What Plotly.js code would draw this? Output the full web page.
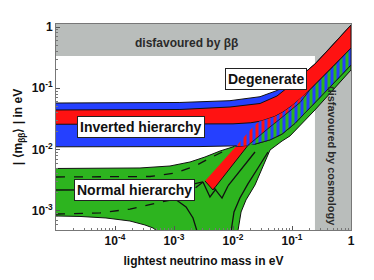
<!DOCTYPE html>
<html><head><meta charset="utf-8">
<script src="https://cdn.plot.ly/plotly-3.0.1.min.js"></script>
<style>html,body{margin:0;padding:0;background:#fff}#chart{width:374px;height:280px}</style>
</head><body><div id="chart"></div>
<script>
// ---- values (lightest mass in eV, |<m_bb>| in eV) ----
// disfavoured regions
const bbLimit = 0.336;          // lower edge of "disfavoured by ββ"
const cosmoLimit = 0.245;       // left edge of "disfavoured by cosmology"

// Inverted hierarchy, outer (3σ) upper edge, joining the degenerate top
const ihTopMass = [1e-5, 1.26e-3, 8.89e-3, 2.87e-2, 5.57e-2, 8.22e-2, 0.117, 0.166, 0.245, 0.441, 1];
const ihTopMbb  = [0.0575, 0.0587, 0.0628, 0.0729, 0.0921, 0.113, 0.142, 0.181, 0.249, 0.454, 1.078];
// Inverted hierarchy, outer (3σ) lower edge
const ihLowMass = [1e-5, 2.76e-3, 1.17e-2, 2.36e-2, 4.24e-2, 6.78e-2, 0.112, 0.202, 0.441, 1];
const ihLowMbb  = [0.0111, 0.0112, 0.0115, 0.0123, 0.0144, 0.0179, 0.0267, 0.0477, 0.105, 0.240];
// Inverted hierarchy, best-fit upper edge
const ihBestTopMass = [1e-5, 1.26e-3, 8.89e-3, 2.87e-2, 5.57e-2, 9.25e-2, 0.137, 0.166, 0.245, 0.441, 1];
const ihBestTopMbb  = [0.0443, 0.0451, 0.0495, 0.0565, 0.0749, 0.109, 0.150, 0.181, 0.249, 0.454, 1.078];
// Inverted hierarchy, best-fit lower edge
const ihBestLowMass = [1e-5, 0.01, 0.02, 0.03, 0.05, 0.07, 0.1, 0.15, 0.2, 0.3, 0.5, 1];
const ihBestLowMbb  = [0.0259, 0.0263, 0.0274, 0.0292, 0.0344, 0.0408, 0.052, 0.0725, 0.094, 0.138, 0.227, 0.452];

// Normal hierarchy, outer upper edge
const nhTopMass = [1e-5, 2.65e-4, 8.55e-4, 1.87e-3, 3.35e-3, 6.03e-3, 1.04e-2, 2.02e-2, 2.76e-2, 0.137, 1];
const nhTopMbb  = [0.00492, 0.00501, 0.0054, 0.00628, 0.00757, 0.00948, 0.0112, 0.0217, 0.0287, 0.0778, 0.614];
// Normal hierarchy, outer lower / right edge (from m=1 down to the cancellation)
const nhLowMass = [1, 0.245, 9.25e-2, 6.78e-2, 4.24e-2, 3.10e-2, 2.36e-2, 1.66e-2, 1.37e-2, 1.22e-2, 1.2e-2];
const nhLowMbb  = [0.199, 0.0443, 0.0167, 0.0138, 0.00984, 0.00501, 0.00265, 0.00151, 0.00096, 0.00049, 3e-4];
// Normal hierarchy, lower-left boundary (white notch)
const nhNotchMass = [5.2e-4, 5.15e-4, 4.41e-4, 3.22e-4, 1.79e-4, 7.03e-5, 2.55e-5, 1e-5];
const nhNotchMbb  = [3e-4, 0.00047, 0.000526, 0.000589, 0.000684, 0.000766, 0.000811, 0.000826];
// Normal hierarchy best-fit band (red)
const nhRedMass = [3.35e-3, 4.58e-3, 1.79e-2, 1.12e-2];
const nhRedMbb  = [0.00308, 0.00219, 0.0117, 0.0112];
// Normal hierarchy best-fit lower edge inside the overlap
const nhBestLowMass = [1.79e-2, 2.87e-2, 4.24e-2, 6.27e-2, 9.25e-2, 0.137, 0.2];
const nhBestLowMbb  = [0.0117, 0.0173, 0.0234, 0.0316, 0.0427, 0.0587, 0.094];

// black curves inside the normal-hierarchy region
const curveA = {m: [1e-5, 3.92e-4, 1.04e-3, 2.27e-3, 4.41e-3, 8.22e-3], v: [0.00357, 0.00364, 0.00415, 0.0054, 0.00757, 0.0102], dash: 'dash'};
const curveB = {m: [1e-5, 3.92e-4, 1.53e-3, 3.10e-3], v: [0.00219, 0.00223, 0.00255, 0.00296], dash: 'solid'};
const curveC = {m: [1e-5, 5.57e-5, 1.79e-4, 4.76e-4, 1.04e-3, 1.87e-3, 3.10e-3], v: [0.000889, 0.000925, 0.00107, 0.0013, 0.00156, 0.00203, 0.00296], dash: 'dash'};
const curveD = {m: [1.04e-3, 1.60e-3, 2.10e-3, 2.45e-3, 2.55e-3], v: [0.00156, 0.00116, 0.000766, 0.00047, 3e-4], dash: 'solid'};
const curveE = {m: [3.10e-3, 4.07e-3, 5.15e-3], v: [0.00296, 0.00169, 0.00228], dash: 'solid'};
const curveF = {m: [4.76e-3, 6.51e-3, 8.22e-3], v: [0.00237, 0.00162, 0.00255], dash: 'solid'};
const curveG = {m: [9.25e-3, 1.04e-2, 1.31e-2, 1.79e-2, 2.65e-2, 3.92e-2], v: [0.000453, 0.00096, 0.00162, 0.00275, 0.00501, 0.00914], dash: 'solid'};
const curveH = {m: [8.22e-3, 2.36e-2], v: [0.00255, 0.00914], dash: 'solid'};

const xTicks = [1e-4, 1e-3, 1e-2, 1e-1, 1];
const xTickText = ['10<sup>-4</sup>', '10<sup>-3</sup>', '10<sup>-2</sup>', '10<sup>-1</sup>', '1'];
const yTicks = [1e-3, 1e-2, 1e-1, 1];
const yTickText = ['10<sup>-3</sup>', '10<sup>-2</sup>', '10<sup>-1</sup>', '1'];

// colours
const GRAY = '#b9bdbb', BLUE = '#2540ff', RED = '#ff1212', GREEN = '#2db41f';

const rev = a => a.slice().reverse();
function poly(xs, ys, fill, extra) {
  return Object.assign({type: 'scatter', mode: 'lines', x: xs, y: ys, fill: 'toself',
    fillcolor: fill, line: {color: '#111', width: 1}, hoverinfo: 'skip', showlegend: false}, extra || {});
}
function curve(c) {
  return {type: 'scatter', mode: 'lines', x: c.m, y: c.v, line: {color: '#111', width: 1.3, dash: c.dash},
    hoverinfo: 'skip', showlegend: false};
}

const traces = [];
// gray disfavoured zones
traces.push(poly([1e-5, 1, 1, 1e-5], [bbLimit, bbLimit, 3, 3], GRAY, {line: {width: 0}}));
traces.push(poly([cosmoLimit, 1, 1, cosmoLimit], [1e-4, 1e-4, bbLimit, bbLimit], GRAY, {line: {width: 0}}));
// normal hierarchy outer region
traces.push(poly(nhTopMass.concat(nhLowMass, nhNotchMass), nhTopMbb.concat(nhLowMbb, nhNotchMbb), GREEN));
// normal hierarchy best-fit band
traces.push(poly(nhRedMass, nhRedMbb, RED));
// inverted hierarchy outer region
traces.push(poly(ihTopMass.concat(rev(ihLowMass)), ihTopMbb.concat(rev(ihLowMbb)), BLUE));
// inverted hierarchy best fit
traces.push(poly(ihBestTopMass.concat(rev(ihBestLowMass)), ihBestTopMbb.concat(rev(ihBestLowMbb)), RED));
// overlap: IH 3σ with NH best fit (blue/red hatching)
{
  const mid = ihBestLowMass.map((m, i) => [m, ihBestLowMbb[i]]).filter(p => p[0] >= 0.03 && p[0] <= 0.2);
  const xs = [nhRedMass[3], nhTopMass[7], nhTopMass[8]].concat(mid.map(p => p[0]), rev(nhBestLowMass).slice(1));
  const ys = [nhRedMbb[3], nhTopMbb[7], nhTopMbb[8]].concat(mid.map(p => p[1]), rev(nhBestLowMbb).slice(1));
  traces.push(poly(xs, ys, BLUE, {fillpattern: {shape: '|', bgcolor: BLUE, fgcolor: RED, size: 6, solidity: 0.5}, line: {width: 0}}));
}
// overlap: IH 3σ with NH 3σ (blue/green hatching)
{
  const hi = ihBestLowMass.map((m, i) => [m, ihBestLowMbb[i]]).filter(p => p[0] > 0.2);
  const lo = ihLowMass.map((m, i) => [m, ihLowMbb[i]]).filter(p => p[0] > 0.02).reverse();
  const xs = nhBestLowMass.concat(hi.map(p => p[0]), lo.map(p => p[0]));
  const ys = nhBestLowMbb.concat(hi.map(p => p[1]), lo.map(p => p[1]));
  traces.push(poly(xs, ys, BLUE, {fillpattern: {shape: '|', bgcolor: BLUE, fgcolor: GREEN, size: 6, solidity: 0.5}, line: {color: '#111', width: 0.8}}));
}
[curveA, curveB, curveC, curveD, curveE, curveF, curveG, curveH].forEach(c => traces.push(curve(c)));

const boldFont = (s, c) => ({family: 'Liberation Sans, Arial, sans-serif', size: s, color: c || '#111', weight: 'bold'});
function box(text, x, y) {
  return {text: text, xref: 'paper', yref: 'paper', x: x, y: y, xanchor: 'center', yanchor: 'middle', showarrow: false,
    font: boldFont(14), bgcolor: '#ffffff', bordercolor: '#222', borderwidth: 1, borderpad: 2};
}
const minorTicks = {ticks: 'inside', ticklen: 2, tickcolor: '#777', dtick: 'D1'};

const layout = {
  width: 374, height: 280,
  margin: {l: 56, r: 23, t: 24, b: 50},
  paper_bgcolor: '#fff', plot_bgcolor: '#fff',
  showlegend: false, hovermode: false,
  xaxis: {type: 'log', range: [-5, 0], tickmode: 'array', tickvals: xTicks, ticktext: xTickText,
    ticks: 'inside', ticklen: 4, tickcolor: '#555', minor: minorTicks,
    showgrid: false, zeroline: false, showline: true, linecolor: '#777', linewidth: 1, mirror: true,
    tickfont: boldFont(12),
    title: {text: 'lightest neutrino mass in eV', font: boldFont(12), standoff: 9}},
  yaxis: {type: 'log', range: [-3.312, 0.049], tickmode: 'array', tickvals: yTicks, ticktext: yTickText,
    ticks: 'inside', ticklen: 4, tickcolor: '#555', minor: minorTicks,
    showgrid: false, zeroline: false, showline: true, linecolor: '#777', linewidth: 1, mirror: true,
    tickfont: boldFont(12),
    title: {text: '| ⟨m<sub>ββ</sub>⟩ | in eV', font: boldFont(12), standoff: 6}},
  annotations: [
    box('Degenerate', 0.712, 0.733),
    box('Inverted hierarchy', 0.288, 0.502),
    box('Normal hierarchy', 0.266, 0.194),
    {text: 'disfavoured by ββ', xref: 'paper', yref: 'paper', x: 0.444, y: 0.909, xanchor: 'center', yanchor: 'middle', showarrow: false, font: boldFont(12, '#2a2a2a')},
    {text: 'disfavoured by cosmology', xref: 'paper', yref: 'paper', x: 0.936, y: 0.359, xanchor: 'center', yanchor: 'middle', textangle: 90, showarrow: false, font: boldFont(11, '#2a2a2a')}
  ]
};

Plotly.newPlot('chart', traces, layout, {staticPlot: true, displayModeBar: false});
</script>
</body></html>
